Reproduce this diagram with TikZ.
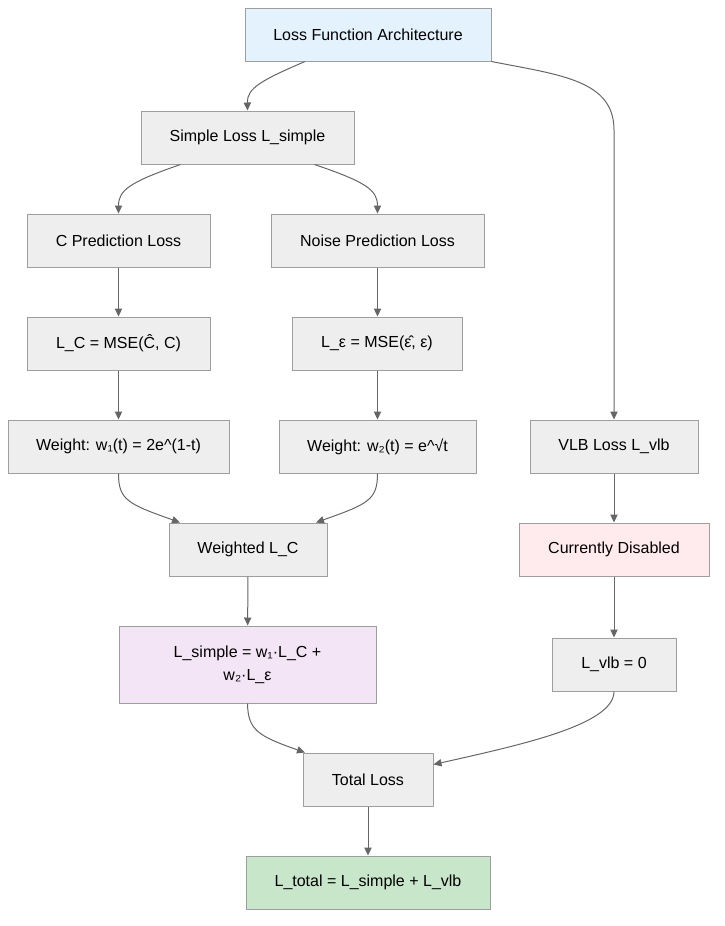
\documentclass[tikz,border=0pt]{standalone}
\usepackage{fontspec}
\setmainfont{Liberation Sans}
\usetikzlibrary{arrows.meta,calc}

\definecolor{boxfill}{HTML}{EEEEEE}
\definecolor{boxline}{HTML}{9E9E9E}
\definecolor{linkcol}{HTML}{666666}
\definecolor{bluefill}{HTML}{E3F2FD}
\definecolor{pinkfill}{HTML}{FFEBEE}
\definecolor{lilacfill}{HTML}{F3E5F5}
\definecolor{greenfill}{HTML}{C8E6C9}

\tikzset{
  lossbox/.style={draw=boxline, fill=boxfill, line width=0.75pt, inner sep=0pt,
    minimum height=39.75pt, font=\fontsize{12}{17.25}\selectfont, align=center},
  link/.style={draw=linkcol, line width=0.75pt, -{Triangle[length=6pt,width=5.5pt]}},
}

\begin{document}
\begin{tikzpicture}[x=0.75pt,y=-0.75pt]
            \useasboundingbox (0,0) rectangle (725,926); %same size as the reference

            % Text Node
            \node [lossbox, fill=bluefill, minimum width=184.5pt] (arch) at (368,34.5) {Loss Function Architecture};
            % Text Node
            \node [lossbox, minimum width=159.75pt] (simple) at (247.5,137.5) {Simple Loss L\_simple};
            % Text Node
            \node [lossbox, minimum width=137.25pt] (cpred) at (118.5,240.5) {C Prediction Loss};
            % Text Node
            \node [lossbox, minimum width=159.75pt] (npred) at (377.5,240.5) {Noise Prediction Loss};
            % Text Node
            \node [lossbox, minimum width=137.25pt] (lc) at (118.5,343.5) {L\_C = MSE(Ĉ, C)};
            % Text Node
            \node [lossbox, minimum width=127.5pt] (leps) at (377,343.5) {L\_ε = MSE(ε̂, ε)};
            % Text Node
            \node [lossbox, minimum width=165.75pt] (wone) at (118.5,446.5) {Weight: w₁(t) = 2e\^{}(1-t)};
            % Text Node
            \node [lossbox, minimum width=147.75pt] (wtwo) at (377.5,446.5) {Weight: w₂(t) = e\^{}√t};
            % Text Node
            \node [lossbox, minimum width=126pt] (vlb) at (614,446.5) {VLB Loss L\_vlb};
            % Text Node
            \node [lossbox, minimum width=118.5pt] (weighted) at (248,549.5) {Weighted L\_C};
            % Text Node
            \node [lossbox, fill=pinkfill, minimum width=142.5pt] (disabled) at (614,549.5) {Currently Disabled};
            % Text Node
            \node [lossbox, fill=lilacfill, minimum width=192.75pt, minimum height=57.75pt] (lsimple) at (247.5,664.5) {L\_simple = w₁·L\_C +\\w₂·L\_ε};
            % Text Node
            \node [lossbox, minimum width=93pt] (lvlb) at (614,664.5) {L\_vlb = 0};
            % Text Node
            \node [lossbox, minimum width=97.5pt] (total) at (368,779.5) {Total Loss};
            % Text Node
            \node [lossbox, fill=greenfill, minimum width=183pt] (ltotal) at (368,882.5) {L\_total = L\_simple + L\_vlb};

            %Curve Lines
            \draw [link] ($(arch.south)+(-63,0)$) .. controls (262,80) and (247,88) .. (simple.north);
            \draw [link] (arch.south east) .. controls (560,75) and (614,80) .. (614,130) -- (vlb.north);
            \draw [link] ($(simple.south)+(-67,0)$) .. controls (130,182) and (118.5,190) .. (cpred.north);
            \draw [link] ($(simple.south)+(67,0)$) .. controls (366,182) and (377.5,190) .. (npred.north);
            %Straight Lines
            \draw [link] (cpred) -- (lc);
            \draw [link] (npred.south) -- (npred.south |- leps.north);
            \draw [link] (lc) -- (wone);
            \draw [link] (leps.south -| wtwo.north) -- (wtwo.north);
            %Curve Lines
            \draw [link] (wone.south) .. controls (118.5,500) and (128,504) .. ($(weighted.north)+(-68,0)$);
            \draw [link] (wtwo.south) .. controls (377.5,500) and (368,504) .. ($(weighted.north)+(68,0)$);
            %Straight Lines
            \draw [link] (vlb) -- (disabled);
            \draw [link] (disabled) -- (lvlb);
            \draw [link] (weighted) -- (lsimple);
            %Curve Lines
            \draw [link] (lsimple.south) .. controls (248,730) and (258,736) .. ($(total.north)+(-63,0)$);
            \draw [link] (lvlb.south) .. controls (614,725) and (520,745) .. ($(total.north east)+(0,12)$);
            %Straight Lines
            \draw [link] (total) -- (ltotal);

\end{tikzpicture}
\end{document}
